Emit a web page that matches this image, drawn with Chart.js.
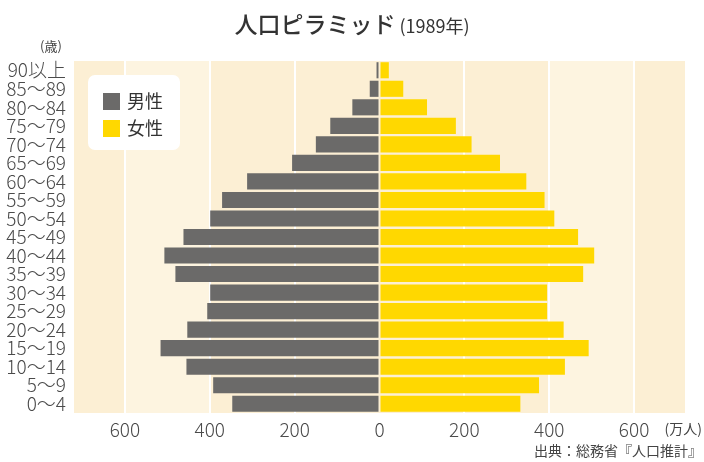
<!DOCTYPE html>
<html>
<head>
<meta charset="utf-8">
<script src="https://cdn.jsdelivr.net/npm/chart.js@4"></script>
<style>
  body { margin: 0; background: #fff; font-family: "Noto Sans CJK JP", sans-serif; }
  #wrap { position: relative; width: 704px; height: 462px; }
  #title { position: absolute; left: 0; width: 704px; top: 6px; text-align: center; color: #333; }
  #title b { font-size: 23px; font-weight: 500; }
  #title span { font-size: 18px; }
  .note { position: absolute; color: #444; white-space: nowrap; }
  #legend { position: absolute; left: 88px; top: 75px; width: 92px; height: 75px; background: #fff; border-radius: 7px; }
  .item { position: absolute; left: 15px; font-size: 18px; color: #333; line-height: 18px; }
  .item i { display: inline-block; width: 17px; height: 17px; vertical-align: -2px; margin-right: 7px; }
</style>
</head>
<body>
<div id="wrap">
  <canvas id="pyramid"></canvas>
  <div id="title"><b>人口ピラミッド</b><span> (1989年)</span></div>
  <div class="note" style="left:40px; top:36px; font-size:13px;">(歳)</div>
  <div class="note" style="right:2px; top:418px; font-size:14px;">(万人)</div>
  <div class="note" style="right:2px; top:440px; font-size:14px;">出典：総務省『人口推計』</div>
  <div id="legend">
    <div class="item" style="top:16px;"><i style="background:#6b6a69"></i>男性</div>
    <div class="item" style="top:43px;"><i style="background:#ffd800"></i>女性</div>
  </div>
</div>

<script>
// data
const ages = ['90以上', '85〜89', '80〜84', '75〜79', '70〜74', '65〜69', '60〜64', '55〜59', '50〜54',
  '45〜49', '40〜44', '35〜39', '30〜34', '25〜29', '20〜24', '15〜19', '10〜14', '5〜9', '0〜4'];
const male = [7, 23, 64, 116, 150, 206, 312, 371, 399, 462, 507, 481, 399, 406, 453, 516, 455, 392, 347];
const female = [22, 56, 112, 180, 217, 284, 346, 389, 412, 468, 506, 480, 395, 395, 434, 493, 437, 376, 332];
const xTicks = [-600, -400, -200, 0, 200, 400, 600];

// background bands
const bands = {
  id: 'bands',
  beforeDraw(chart) {
    const { ctx, chartArea: a, scales: { x } } = chart;
    ctx.save();
    ctx.fillStyle = '#fcefd4';
    ctx.fillRect(a.left, a.top, a.right - a.left, a.bottom - a.top);
    ctx.fillStyle = '#fdf4e0';
    [[-600, -400], [400, 600]].forEach(function (b) {
      const x1 = x.getPixelForValue(b[0]), x2 = x.getPixelForValue(b[1]);
      ctx.fillRect(x1, a.top, x2 - x1, a.bottom - a.top);
    });
    ctx.restore();
  }
};

new Chart(document.getElementById('pyramid'), {
  type: 'bar',
  data: {
    labels: ages,
    datasets: [
      { label: '男性', data: male.map(v => -v), backgroundColor: '#6b6a69' },
      { label: '女性', data: female, backgroundColor: '#ffd800' }
    ]
  },
  options: {
    indexAxis: 'y',
    responsive: true,
    maintainAspectRatio: false,
    animation: false,
    datasets: { bar: { barPercentage: 0.87, categoryPercentage: 1 } },
    layout: { padding: { top: 61, right: 19, bottom: 25, left: 0 } },
    plugins: { legend: { display: false }, tooltip: { enabled: false } },
    scales: {
      x: {
        stacked: true,
        min: -720,
        max: 720,
        afterBuildTicks: s => { s.ticks = xTicks.map(v => ({ value: v })); },
        afterFit: s => { s.height = 24; },
        grid: {
          color: c => c.tick && c.tick.value === 0 ? 'rgba(0,0,0,0)' : '#ffffff',
          lineWidth: 2,
          drawTicks: false
        },
        border: { display: false },
        ticks: {
          padding: 5,
          color: '#4a4a4a',
          font: { family: '"Noto Sans CJK JP"', size: 19, weight: 300 },
          callback: v => Math.abs(v)
        }
      },
      y: {
        stacked: true,
        afterFit: s => { s.width = 74; },
        grid: { display: false, drawTicks: false },
        border: { display: false },
        ticks: {
          autoSkip: false,
          padding: 8,
          color: '#4a4a4a',
          font: { family: '"Noto Sans CJK JP"', size: 19, weight: 300, lineHeight: 1 }
        }
      }
    }
  },
  plugins: [bands]
});
</script>
</body>
</html>
